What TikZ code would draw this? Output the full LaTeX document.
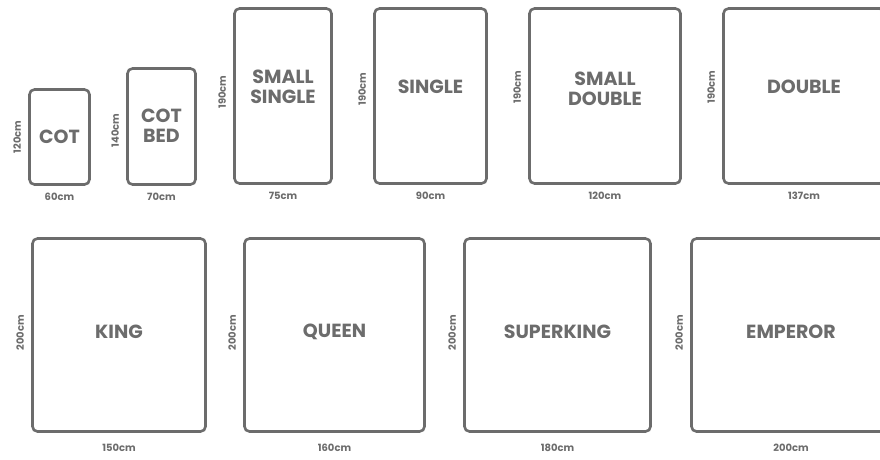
\documentclass[tikz,border=0pt]{standalone}
\usepackage{fontspec}
\setmainfont{Poppins}
\usepackage{xcolor}
\usetikzlibrary{positioning}
\definecolor{bedgray}{RGB}{108,108,108}

\begin{document}
\begin{tikzpicture}[
    x=1pt, y=-1pt,
    every node/.style={text=bedgray},
    bed/.style={rectangle, draw=bedgray, line width=2.6pt, rounded corners=5pt},
    bedname/.style={font=\fontsize{19}{20}\selectfont\bfseries, align=center, inner sep=0pt},
    dimh/.style={font=\fontsize{10}{11}\selectfont\bfseries, inner sep=0pt},
    dimv/.style={dimh, rotate=90}
]
\useasboundingbox[fill=white] (0,0) rectangle (880,459);

% Beds, top row
\node[bed, minimum width=60pt, minimum height=95pt] (cot) at (59.5,137) {};
\node[bed, minimum width=68pt, minimum height=116pt] (cotbed) at (161.5,126.5) {};
\node[bed, minimum width=97pt, minimum height=175pt] (ssingle) at (283,96) {};
\node[bed, minimum width=112pt, minimum height=175pt] (single) at (430.5,96) {};
\node[bed, minimum width=151pt, minimum height=175pt] (sdouble) at (605,96) {};
\node[bed, minimum width=161pt, minimum height=175pt] (double) at (804,96) {};

% Beds, bottom row
\node[bed, minimum width=173pt, minimum height=193pt] (king) at (119,335) {};
\node[bed, minimum width=180pt, minimum height=193pt] (queen) at (334.5,335) {};
\node[bed, minimum width=186pt, minimum height=193pt] (superking) at (557.5,335) {};
\node[bed, minimum width=199pt, minimum height=193pt] (emperor) at (791,335) {};

% Names
\node[bedname] (cotname) at (cot.center) {COT};
\node[bedname] (cotbedname) at ([yshift=1pt]cotbed.center) {COT\\BED};
\node[bedname] (ssinglename) at ([yshift=9pt]ssingle.center) {SMALL\\SINGLE};
\node[bedname] (singlename) at ([yshift=9pt]single.center) {SINGLE};
\node[bedname] (sdoublename) at ([yshift=7pt]sdouble.center) {SMALL\\DOUBLE};
\node[bedname] (doublename) at ([yshift=9pt]double.center) {DOUBLE};
\node[bedname] (kingname) at ([yshift=3pt]king.center) {KING};
\node[bedname] (queenname) at ([yshift=3pt]queen.center) {QUEEN};
\node[bedname] (superkingname) at ([yshift=3pt]superking.center) {SUPERKING};
\node[bedname] (emperorname) at ([yshift=3pt]emperor.center) {EMPEROR};

% Widths
\node[dimh, below=7pt of cot] (cotw) {60cm};
\node[dimh, below=7pt of cotbed] (cotbedw) {70cm};
\node[dimh, below=7pt of ssingle] (ssinglew) {75cm};
\node[dimh, below=7pt of single] (singlew) {90cm};
\node[dimh, below=7pt of sdouble] (sdoublew) {120cm};
\node[dimh, below=7pt of double] (doublew) {137cm};
\node[dimh, below=11pt of king] (kingw) {150cm};
\node[dimh, below=11pt of queen] (queenw) {160cm};
\node[dimh, below=11pt of superking] (superkingw) {180cm};
\node[dimh, below=11pt of emperor] (emperorw) {200cm};

% Lengths
\node[dimv] (cotl) at ([xshift=-11pt]cot.west) {120cm};
\node[dimv] (cotbedl) at ([xshift=-11pt, yshift=-4pt]cotbed.west) {140cm};
\node[dimv] (ssinglel) at ([xshift=-11pt, yshift=4pt]ssingle.west) {190cm};
\node[dimv] (singlel) at ([xshift=-11pt, yshift=7pt]single.west) {190cm};
\node[dimv] (sdoublel) at ([xshift=-11pt, yshift=9pt]sdouble.west) {190cm};
\node[dimv] (doublel) at ([xshift=-11pt, yshift=9pt]double.west) {190cm};
\node[dimv] (kingl) at ([xshift=-11pt, yshift=2pt]king.west) {200cm};
\node[dimv] (queenl) at ([xshift=-11pt, yshift=2pt]queen.west) {200cm};
\node[dimv] (superkingl) at ([xshift=-11pt, yshift=2pt]superking.west) {200cm};
\node[dimv] (emperorl) at ([xshift=-11pt, yshift=2pt]emperor.west) {200cm};

\end{tikzpicture}
\end{document}
